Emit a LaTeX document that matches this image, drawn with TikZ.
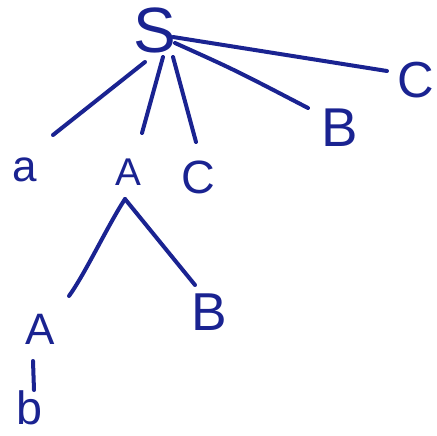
\documentclass[tikz,border=0pt]{standalone}
\usepackage{fontspec}
\setmainfont{Liberation Sans}
\usetikzlibrary{calc}
\definecolor{ink}{HTML}{1A2391}
\begin{document}
\begin{tikzpicture}[x=0.75pt,y=-0.75pt,
  lbl/.style={text=ink,inner sep=0pt},
  fs/.style={font=\fontsize{#1}{#1}\selectfont},
  edge/.style={draw=ink,line width=3pt,line cap=round,line join=round}]
\useasboundingbox[fill=white] (0,0) rectangle (437,436);
\node[lbl,fs=48] (S) at (155,30) {S};
\node[lbl,fs=33] (a) at (25,170) {a};
\node[lbl,fs=29] (A) at (128,172) {A};
\node[lbl,fs=35] (C) at (198,177) {C};
\node[lbl,fs=41] (B) at (340,128) {B};
\node[lbl,fs=38] (C2) at (416,80) {C};
\node[lbl,fs=33] (A2) at (40,329) {A};
\node[lbl,fs=40] (B2) at (209,312) {B};
\node[lbl,fs=35] (b) at (29,408) {b};
\draw[edge] ($(S)+(-10,32)$) -- ($(a)+(28,-35)$);
\draw[edge] ($(S)+(8,27)$) -- ($(A)+(14,-39)$);
\draw[edge] ($(S)+(18,27)$) -- ($(C)+(-2,-35)$);
\draw[edge] ($(S)+(20,13)$) .. controls ($(S)+(80,40)$) .. ($(B)+(-32,-20)$);
\draw[edge] ($(S)+(18,7)$) -- ($(C2)+(-29,-9)$);
\draw[edge] ($(A)+(-3,27)$) .. controls ($(A)+(-20,53)$) and ($(A2)+(45,-55)$) .. ($(A2)+(29,-33)$);
\draw[edge] ($(A)+(-3,27)$) -- ($(B2)+(-14,-27)$);
\draw[edge] ($(A2)+(-7,32)$) -- ($(A2)+(-6,61)$);
\end{tikzpicture}
\end{document}
